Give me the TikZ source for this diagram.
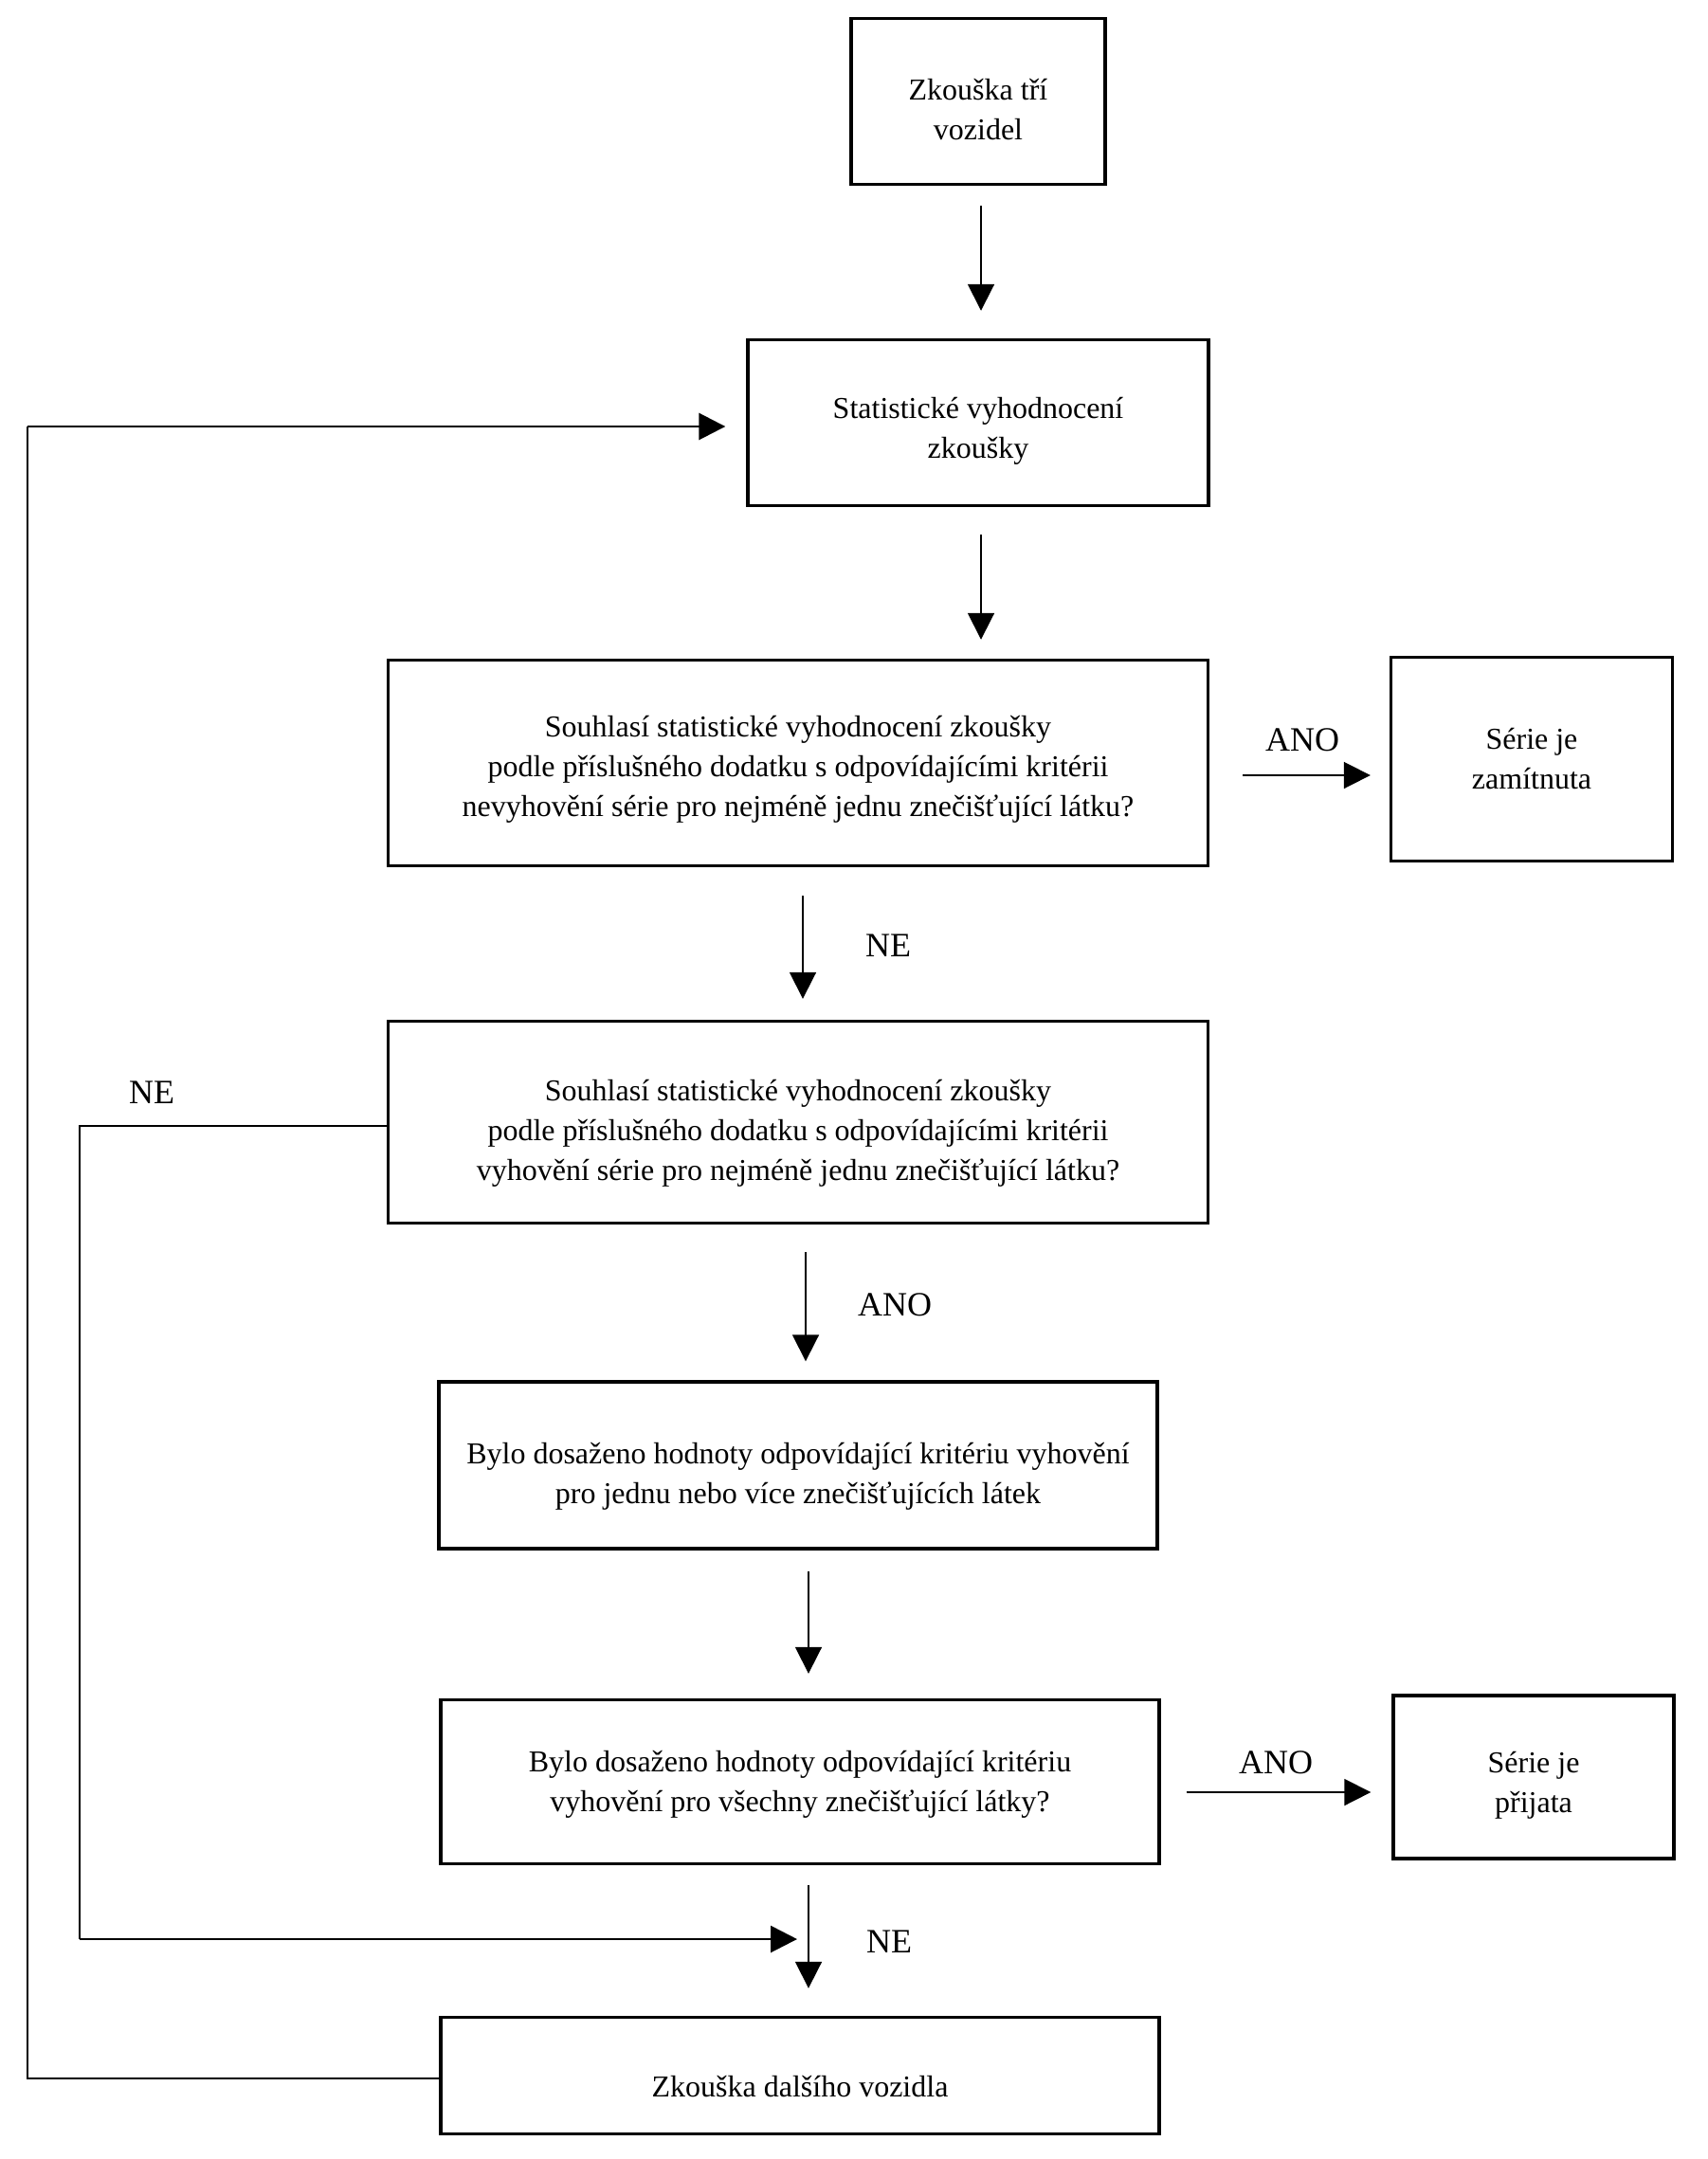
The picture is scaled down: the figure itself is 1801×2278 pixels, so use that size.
\documentclass[tikz,border=0pt]{standalone}
\usepackage{fontspec}
\setmainfont{Liberation Serif}
\usetikzlibrary{arrows.meta,calc}
\begin{document}
\begin{tikzpicture}[x=0.5pt,y=-0.5pt,
  box/.style={draw=black,line width=1.7pt,minimum width=#1,inner sep=0pt},
  txt/.style={align=center,inner sep=0pt,font=\fontsize{16pt}{21pt}\selectfont},
  arr/.style={line width=0.9pt,-{Triangle[length=14pt,width=14pt]}},
  loop/.style={line width=1.4pt},
  lab/.style={font=\fontsize{18pt}{22pt}\selectfont,inner sep=0pt}]
\useasboundingbox (0,0) rectangle (1801,2278);
\fill[white] (0,0) rectangle (1801,2278);
% boxes
\node[box=134pt,minimum height=87.5pt] (b1) at (1032,107) {};
\node[box=243pt,minimum height=87.5pt] (b2) at (1032,446) {};
\node[box=432.5pt,minimum height=108.5pt] (b3) at (842,805) {};
\node[box=148.5pt,minimum height=107.5pt] (r1) at (1616,801) {};
\node[box=432.5pt,minimum height=106.5pt] (b4) at (842,1184) {};
\node[box=379pt,minimum height=88pt] (b5) at (842,1546) {};
\node[box=379pt,minimum height=86.5pt] (b6) at (844,1880) {};
\node[box=148pt,minimum height=86pt] (r2) at (1618,1875) {};
\node[box=379pt,minimum height=61.5pt] (b7) at (844,2190) {};
% box texts
\node[txt] (t1) at ([shift={(0,9)}]b1.center) {Zkouška tří\\vozidel};
\node[txt] (t2) at ([shift={(0,9)}]b2.center) {Statistické vyhodnocení\\zkoušky};
\node[txt] (t3) at ([shift={(0,7)}]b3.center) {Souhlasí statistické vyhodnocení zkoušky\\podle příslušného dodatku s odpovídajícími kritérii\\nevyhovění série pro nejméně jednu znečišťující látku?};
\node[txt] (tr1) at ([shift={(0,0)}]r1.center) {Série je\\zamítnuta};
\node[txt] (t4) at ([shift={(0,12)}]b4.center) {Souhlasí statistické vyhodnocení zkoušky\\podle příslušného dodatku s odpovídajícími kritérii\\vyhovění série pro nejméně jednu znečišťující látku?};
\node[txt] (t5) at ([shift={(0,12)}]b5.center) {Bylo dosaženo hodnoty odpovídající kritériu vyhovění\\pro jednu nebo více znečišťujících látek};
\node[txt] (t6) at ([shift={(0,3)}]b6.center) {Bylo dosaženo hodnoty odpovídající kritériu\\vyhovění pro všechny znečišťující látky?};
\node[txt] (tr2) at ([shift={(0,9)}]r2.center) {Série je\\přijata};
\node[txt] (t7) at ([shift={(0,11)}]b7.center) {Zkouška dalšího vozidla};
% vertical arrows
\draw[arr,shorten <=10.5pt,shorten >=14.5pt] ([shift={(3,0)}]b1.south) -- ([shift={(3,0)}]b2.north);
\draw[arr,shorten <=14.5pt,shorten >=10pt] ([shift={(3,0)}]b2.south) -- ([shift={(3,0)}]b2.south |- b3.north);
\draw[arr,shorten <=15pt,shorten >=11pt] ([shift={(5,0)}]b3.south) -- ([shift={(5,0)}]b4.north);
\draw[arr,shorten <=14.5pt,shorten >=10pt] ([shift={(8,0)}]b4.south) -- ([shift={(8,0)}]b5.north);
\draw[arr,shorten <=11pt,shorten >=13pt] ([shift={(11,0)}]b5.south) -- ([shift={(9,0)}]b6.north);
\draw[arr,shorten <=10.5pt,shorten >=14.5pt] ([shift={(9,0)}]b6.south) -- ([shift={(9,0)}]b7.north);
% horizontal ANO arrows
\draw[arr] ([shift={(35,13)}]b3.east) -- ([shift={(-20,17)}]r1.west);
\draw[arr] ([shift={(27,11)}]b6.east) -- ([shift={(-22,16)}]r2.west);
% NE loop from b4
\coordinate (c1) at (84,2046);
\coordinate (c2) at (841,2046);
\draw[loop] ([shift={(0,4)}]b4.west) -| (c1);
\draw[loop,-{Triangle[length=14pt,width=14pt]}] (c1) -- (c2);
% big loop from b7
\coordinate (c3) at (29,450);
\draw[loop] ([shift={(0,3)}]b7.west) -| (c3);
\draw[loop,-{Triangle[length=14pt,width=14pt]}] (c3) -- ([shift={(-22,4)}]b2.west);
% labels
\node[lab] (l1) at (1374,781) {ANO};
\node[lab] (l2) at (937,998) {NE};
\node[lab] (l3) at (160,1153) {NE};
\node[lab] (l4) at (944,1377) {ANO};
\node[lab] (l5) at (1346,1860) {ANO};
\node[lab] (l6) at (938,2049) {NE};
\end{tikzpicture}
\end{document}
